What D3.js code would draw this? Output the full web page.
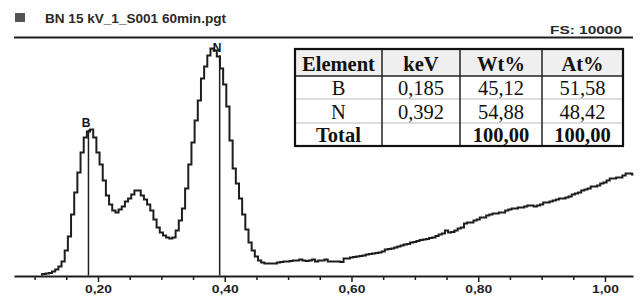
<!DOCTYPE html>
<html>
<head>
<meta charset="utf-8">
<script src="https://cdn.jsdelivr.net/npm/d3@7/dist/d3.min.js"></script>
<style>
  html, body { margin: 0; padding: 0; background: #fff; }
  svg { display: block; }
</style>
</head>
<body>
<svg id="chart" width="643" height="297"></svg>
<script>
// ---------- DATA ----------
const titleText = "BN 15 kV_1_S001 60min.pgt";
const fsText = "FS: 10000";
const channelStart = 0.110;   // keV, centre of first channel
const channelWidth = 0.005;   // keV per channel
const counts = [
  42, 63, 84, 105, 168, 252, 378, 588, 1050, 1638,
  2562, 3486, 4326, 5166, 5796, 6048, 6132, 5796, 5166, 4662,
  3990, 3360, 2982, 2730, 2646, 2772, 2898, 3108, 3234, 3402,
  3570, 3570, 3360, 3192, 2982, 2730, 2352, 2016, 1806, 1680,
  1596, 1554, 1596, 1890, 2310, 2814, 3654, 4662, 5586, 6510,
  7350, 8274, 8778, 9240, 9534, 9450, 9198, 8694, 8022, 7098,
  5670, 4494, 3864, 3234, 2562, 1932, 1386, 1050, 798, 630,
  546, 504, 504, 504, 504, 546, 567, 588, 588, 609,
  630, 630, 672, 630, 609, 630, 672, 588, 630, 630,
  672, 588, 588, 588, 588, 567, 714, 714, 756, 777,
  798, 819, 840, 882, 903, 924, 945, 966, 1008, 1092,
  1113, 1134, 1176, 1218, 1260, 1302, 1323, 1386, 1407, 1449,
  1491, 1512, 1533, 1575, 1596, 1659, 1722, 1764, 1890, 1806,
  1827, 1890, 1974, 2016, 2184, 2226, 2226, 2310, 2352, 2436,
  2436, 2520, 2562, 2604, 2604, 2646, 2646, 2730, 2772, 2814,
  2814, 2856, 2856, 2898, 2940, 2940, 2898, 2940, 2982, 3066,
  3066, 3108, 3150, 3192, 3234, 3234, 3276, 3318, 3402, 3444,
  3486, 3570, 3612, 3654, 3738, 3738, 3780, 3864, 3906, 3990,
  4074, 4074, 4116, 4116, 4200, 4284, 4284, 4242
];
const majorTicks = [0.2, 0.4, 0.6, 0.8, 1.0];
const minorTicks = [0.10, 0.15, 0.25, 0.30, 0.35, 0.45, 0.50, 0.55, 0.65, 0.70, 0.75, 0.85, 0.90, 0.95];
const markerNames = ["B", "N"];
const markerKeV = [0.185, 0.392];
const markerCounts = [6130, 9250];

const tableHeader = ["Element", "keV", "Wt%", "At%"];
const tableElements = ["B", "N"];
const tableKeV = ["0,185", "0,392"];
const tableWt = ["45,12", "54,88"];
const tableAt = ["51,58", "48,42"];
const tableTotal = ["Total", "", "100,00", "100,00"];

// ---------- SCALES ----------
const svg = d3.select("#chart");
const ink = "#1e1e1e";
const sans = "Liberation Sans, Arial, sans-serif";
const x = d3.scaleLinear().domain([0.0675, 1.0442]).range([14, 633]);
const y = d3.scaleLinear().domain([0, 10000]).range([275.5, 37.5]);

// ---------- HEADER ----------
svg.append("rect").attr("x", 15).attr("y", 13).attr("width", 10).attr("height", 9)
  .attr("fill", "#555");
svg.append("text").attr("x", 45).attr("y", 22.5)
  .attr("font-family", sans).attr("font-weight", "bold")
  .attr("font-size", 12.5).attr("fill", "#2a2a2a")
  .attr("textLength", 181).attr("lengthAdjust", "spacingAndGlyphs")
  .text(titleText);
svg.append("text").attr("x", 622).attr("y", 33.5).attr("text-anchor", "end")
  .attr("font-family", sans).attr("font-weight", "bold")
  .attr("font-size", 11.5).attr("fill", "#2a2a2a")
  .attr("textLength", 72).attr("lengthAdjust", "spacingAndGlyphs")
  .text(fsText);
svg.append("line").attr("x1", 14).attr("x2", 633).attr("y1", y(10000)).attr("y2", y(10000))
  .attr("stroke", ink).attr("stroke-width", 2.2);

// ---------- AXIS ----------
const axisG = svg.append("g").attr("transform", "translate(0,276)");
axisG.call(d3.axisBottom(x).tickValues(majorTicks).tickSize(6).tickSizeOuter(0).tickPadding(3)
  .tickFormat(d => d.toFixed(2).replace(".", ",")));
axisG.select(".domain").attr("stroke", ink).attr("stroke-width", 2);
axisG.selectAll(".tick line").attr("stroke", ink).attr("stroke-width", 1.5);
axisG.selectAll(".tick text").attr("font-family", sans).attr("font-weight", "bold")
  .attr("font-size", 11.5).attr("fill", "#222")
  .attr("textLength", 27).attr("lengthAdjust", "spacingAndGlyphs");
const minorG = svg.append("g").attr("transform", "translate(0,276)");
minorG.call(d3.axisBottom(x).tickValues(minorTicks).tickSize(4).tickSizeOuter(0).tickFormat(""));
minorG.select(".domain").remove();
minorG.selectAll(".tick line").attr("stroke", ink).attr("stroke-width", 1.5);

// ---------- SPECTRUM ----------
const pts = counts.map((c, i) => [channelStart + i * channelWidth, c]);
const line = d3.line().x(d => x(d[0])).y(d => y(d[1])).curve(d3.curveStep);
svg.append("path").datum(pts).attr("d", line)
  .attr("fill", "none").attr("stroke", ink).attr("stroke-width", 2)
  .attr("stroke-linejoin", "miter");

// ---------- MARKERS ----------
markerKeV.forEach((k, i) => {
  svg.append("line").attr("x1", x(k)).attr("x2", x(k))
    .attr("y1", y(0)).attr("y2", y(markerCounts[i]))
    .attr("stroke", ink).attr("stroke-width", 1.5);
  svg.append("text").attr("x", x(k) - 2.5).attr("y", y(markerCounts[i]) - 3)
    .attr("text-anchor", "middle").attr("font-family", sans)
    .attr("font-weight", "bold").attr("font-size", 12).attr("fill", "#111")
    .text(markerNames[i]);
});

// ---------- TABLE ----------
const colX = [295, 382, 460, 542, 623];
const rowY = [49, 76, 99, 123, 146];
const tbl = svg.append("g");
tbl.append("rect").attr("x", colX[0]).attr("y", rowY[0]).attr("width", colX[4] - colX[0])
  .attr("height", rowY[4] - rowY[0]).attr("fill", "#fff");
tbl.append("rect").attr("x", colX[0]).attr("y", rowY[0]).attr("width", colX[4] - colX[0])
  .attr("height", rowY[1] - rowY[0]).attr("fill", "#efefef");
[rowY[2], rowY[3]].forEach(yy => tbl.append("line").attr("x1", colX[0]).attr("x2", colX[4])
  .attr("y1", yy).attr("y2", yy).attr("stroke", "#bbb").attr("stroke-width", 1));
tbl.append("line").attr("x1", colX[0]).attr("x2", colX[4]).attr("y1", rowY[1]).attr("y2", rowY[1])
  .attr("stroke", "#222").attr("stroke-width", 1.5);
[colX[1], colX[2], colX[3]].forEach(xx => tbl.append("line").attr("x1", xx).attr("x2", xx)
  .attr("y1", rowY[0]).attr("y2", rowY[4]).attr("stroke", "#222").attr("stroke-width", 1.5));
tbl.append("rect").attr("x", colX[0]).attr("y", rowY[0]).attr("width", colX[4] - colX[0])
  .attr("height", rowY[4] - rowY[0]).attr("fill", "none").attr("stroke", "#111").attr("stroke-width", 2.2);

const rows = [
  { cells: tableHeader, bold: true },
  { cells: [tableElements[0], tableKeV[0], tableWt[0], tableAt[0]], bold: false },
  { cells: [tableElements[1], tableKeV[1], tableWt[1], tableAt[1]], bold: false },
  { cells: tableTotal, bold: true }
];
const baselines = [70.5, 95, 118.5, 142];
rows.forEach((r, ri) => {
  r.cells.forEach((t, ci) => {
    tbl.append("text").attr("x", (colX[ci] + colX[ci + 1]) / 2).attr("y", baselines[ri])
      .attr("text-anchor", "middle").attr("font-family", "Liberation Serif")
      .attr("font-weight", r.bold ? "bold" : "normal").attr("font-size", 20.5)
      .attr("fill", "#111").text(t);
  });
});
</script>
</body>
</html>
